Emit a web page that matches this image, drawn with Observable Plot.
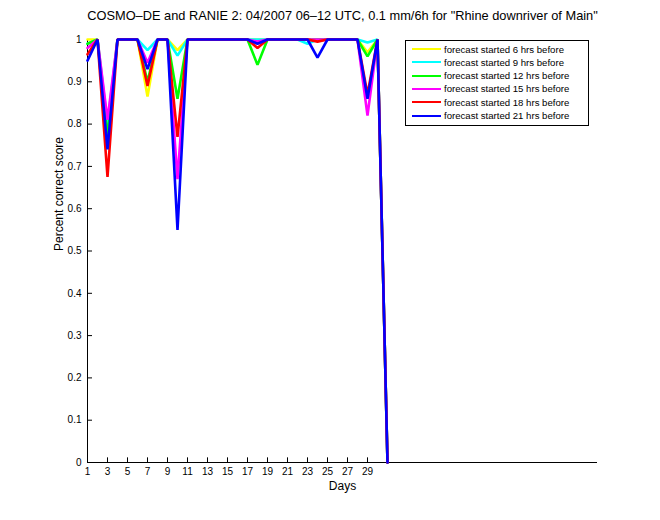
<!DOCTYPE html>
<html><head><meta charset="utf-8">
<script src="https://cdn.jsdelivr.net/npm/d3@7"></script>
<script src="https://cdn.jsdelivr.net/npm/@observablehq/plot@0.6"></script>
<style>
body{margin:0;background:#fff;font-family:"Liberation Sans",Arial,sans-serif;}
#wrap{position:relative;width:660px;height:520px;}
#legend{position:absolute;left:405px;top:40px;width:184px;height:86px;border:1px solid #000;background:#fff;box-sizing:border-box;}
.row{position:absolute;left:6px;height:12px;display:flex;align-items:center;font-size:9.6px;white-space:pre;}
.sw{width:29px;height:2px;margin-right:3px;}
</style></head>
<body><div id="wrap"></div>
<script>
const days = [1,2,3,4,5,6,7,8,9,10,11,12,13,14,15,16,17,18,19,20,21,22,23,24,25,26,27,28,29,30,31];
const seriesNames = ["forecast started 6 hrs before","forecast started 9 hrs before","forecast started 12 hrs before","forecast started 15 hrs before","forecast started 18 hrs before","forecast started 21 hrs before"];
const seriesColors = ["#ffff00","#00ffff","#00ff00","#ff00ff","#ff0000","#0000ff"];
const h6  = [1,1,0.79,1,1,1,0.865,1,1,0.975,1,1,1,1,1,1,1,1,1,1,1,1,1,1,1,1,1,1,0.97,1,0];
const h9  = [0.99,1,0.80,1,1,1,0.975,1,1,0.962,1,1,1,1,1,1,1,1,1,1,1,1,0.99,1,1,1,1,1,0.993,1,0];
const h12 = [0.99,1,0.77,1,1,1,0.90,1,1,0.86,1,1,1,1,1,1,1,0.94,1,1,1,1,1,1,1,1,1,1,0.96,1,0];
const h15 = [0.98,1,0.81,1,1,1,0.945,1,1,0.67,1,1,1,1,1,1,1,0.995,1,1,1,1,1,1,1,1,1,1,0.82,1,0];
const h18 = [0.965,1,0.675,1,1,1,0.89,1,1,0.77,1,1,1,1,1,1,1,0.98,1,1,1,1,1,0.995,1,1,1,1,0.87,1,0];
const h21 = [0.95,1,0.74,1,1,1,0.93,1,1,0.55,1,1,1,1,1,1,1,0.99,1,1,1,1,1,0.957,1,1,1,1,0.86,1,0];
const seriesValues = [h6,h9,h12,h15,h18,h21];
const xTicks = [1,3,5,7,9,11,13,15,17,19,21,23,25,27,29];
const yTicks = [0,0.1,0.2,0.3,0.4,0.5,0.6,0.7,0.8,0.9,1];
const title = "COSMO\u2013DE and RANIE 2: 04/2007 06\u201312 UTC, 0.1 mm/6h for \"Rhine downriver of Main\"";

const data = [];
seriesNames.forEach((s,i)=>days.forEach((d,j)=>data.push({series:s, day:d, v:seriesValues[i][j]})));

const chart = Plot.plot({
  width:660, height:520,
  marginLeft:87, marginRight:63, marginTop:39, marginBottom:58,
  style:{fontFamily:"'Liberation Sans',Arial,sans-serif", background:"#fff", overflow:"visible"},
  x:{domain:[1,52]},
  y:{domain:[0,1]},
  color:{domain:seriesNames, range:seriesColors},
  marks:[
    Plot.axisX({ticks:xTicks, tickSize:0, tickPadding:5, fontSize:10, label:null}),
    Plot.axisY({ticks:yTicks, tickSize:0, tickPadding:6, fontSize:10, label:null, tickFormat:d=>String(d)}),
    Plot.ruleX(xTicks,{x:d=>d, y1:0, y2:0.011, stroke:"#000"}),
    Plot.ruleY(yTicks,{y:d=>d, x1:1, x2:1.5, stroke:"#000"}),
    Plot.ruleY([0],{stroke:"#000"}),
    Plot.ruleX([1],{stroke:"#000"}),
    Plot.line(data,{x:"day", y:"v", z:"series", stroke:"series", strokeWidth:2.6, strokeLinejoin:"miter"}),
    Plot.text([title],{frameAnchor:"top", dy:-29, fontSize:12.8, text:d=>d, fill:"#000"}),
    Plot.text(["Days"],{frameAnchor:"bottom", dy:27, dx:0, fontSize:12, text:d=>d, fill:"#000"}),
    Plot.text(["Percent correct score"],{frameAnchor:"left", dx:-28, rotate:-90, fontSize:12, text:d=>d, fill:"#000"})
  ]
});
const wrap = document.getElementById("wrap");
wrap.appendChild(chart);
const leg = document.createElement("div");
leg.id = "legend";
seriesNames.forEach((s,i)=>{
  const r = document.createElement("div");
  r.className = "row";
  r.style.top = (2 + i*13.3) + "px";
  const sw = document.createElement("div");
  sw.className = "sw"; sw.style.background = seriesColors[i];
  r.appendChild(sw);
  r.appendChild(document.createTextNode(s));
  leg.appendChild(r);
});
wrap.appendChild(leg);
</script></body></html>
